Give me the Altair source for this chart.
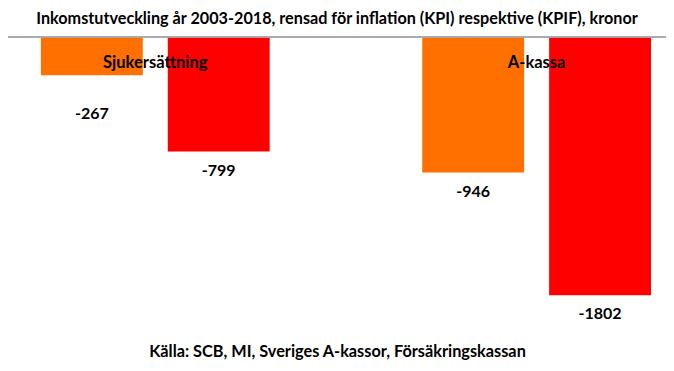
import altair as alt
import pandas as pd

# --- data ---
categories = ["Sjukersättning", "A-kassa"]
series = ["KPI", "KPIF"]
values_kpi = [-267, -946]
values_kpif = [-799, -1802]
colors = ["#FF7000", "#FF0000"]
title_text = "Inkomstutveckling år 2003-2018, rensad för inflation (KPI) respektive (KPIF), kronor"
source_text = "Källa: SCB, MI, Sveriges A-kassor, Försäkringskassan"

rows = []
for i, c in enumerate(categories):
    rows.append({"cat": c, "series": series[0], "value": values_kpi[i]})
    rows.append({"cat": c, "series": series[1], "value": values_kpif[i]})
df = pd.DataFrame(rows)
cat_df = pd.DataFrame({"cat": categories})

FONT = "Lato"
W, H = 658, 301

x_enc = alt.X(
    "cat:N",
    sort=categories,
    scale=alt.Scale(paddingInner=0.4, paddingOuter=0.0628, align=0.687),
    axis=alt.Axis(
        labels=False, ticks=False, domain=False, grid=False,
        title=source_text, titleFont=FONT, titleFontSize=16.3,
        titleFontWeight="bold", titleColor="#000000", titlePadding=5,
    ),
)
xoff = alt.XOffset("series:N", sort=series,
                   scale=alt.Scale(paddingInner=0.197, paddingOuter=0))
y_scale = alt.Scale(domain=[-2100, 0], nice=False, zero=True)

bars = alt.Chart(df).mark_bar().encode(
    x=x_enc,
    xOffset=xoff,
    y=alt.Y("value:Q", scale=y_scale, axis=None),
    y2=alt.datum(0),
    color=alt.Color("series:N", scale=alt.Scale(domain=series, range=colors), legend=None),
)

base_lbl = alt.Chart(df).transform_calculate(label="'' + datum.value")

labels_main = base_lbl.transform_filter(
    alt.datum.value < -500
).mark_text(font=FONT, fontSize=16, fontWeight="bold", baseline="middle", dy=19, color="#000").encode(
    x=alt.X("cat:N", sort=categories),
    xOffset=alt.XOffset("series:N", sort=series),
    y=alt.Y("value:Q"),
    text=alt.Text("label:N"),
)
labels_low = base_lbl.transform_filter(
    alt.datum.value >= -500
).mark_text(font=FONT, fontSize=16, fontWeight="bold", baseline="middle", dy=39, color="#000").encode(
    x=alt.X("cat:N", sort=categories),
    xOffset=alt.XOffset("series:N", sort=series),
    y=alt.Y("value:Q"),
    text=alt.Text("label:N"),
)

cat_labels = alt.Chart(cat_df).mark_text(
    font=FONT, fontSize=16.5, fontWeight="bold", baseline="middle", dy=26, color="#000"
).encode(
    x=alt.X("cat:N", sort=categories),
    y=alt.datum(0),
    text="cat:N",
)

zero_line = alt.Chart(cat_df).mark_rule(color="#A6A6A6", strokeWidth=1.5).encode(
    y=alt.datum(0),
    x=alt.value(-8),
    x2=alt.value(W + 8),
)

chart = alt.layer(bars, zero_line, cat_labels, labels_main, labels_low).resolve_scale(
    xOffset="shared"
).properties(
    width=W,
    height=H,
    title=alt.TitleParams(title_text, font=FONT, fontSize=16.2, fontWeight="bold",
                          color="#000", anchor="middle", offset=9),
    autosize=alt.AutoSizeParams(type="none"),
    padding={"left": 0, "top": 29, "right": 0, "bottom": 25},
).configure_view(stroke=None)

chart.save("out.html", embed_options={"renderer": "svg", "actions": False})
